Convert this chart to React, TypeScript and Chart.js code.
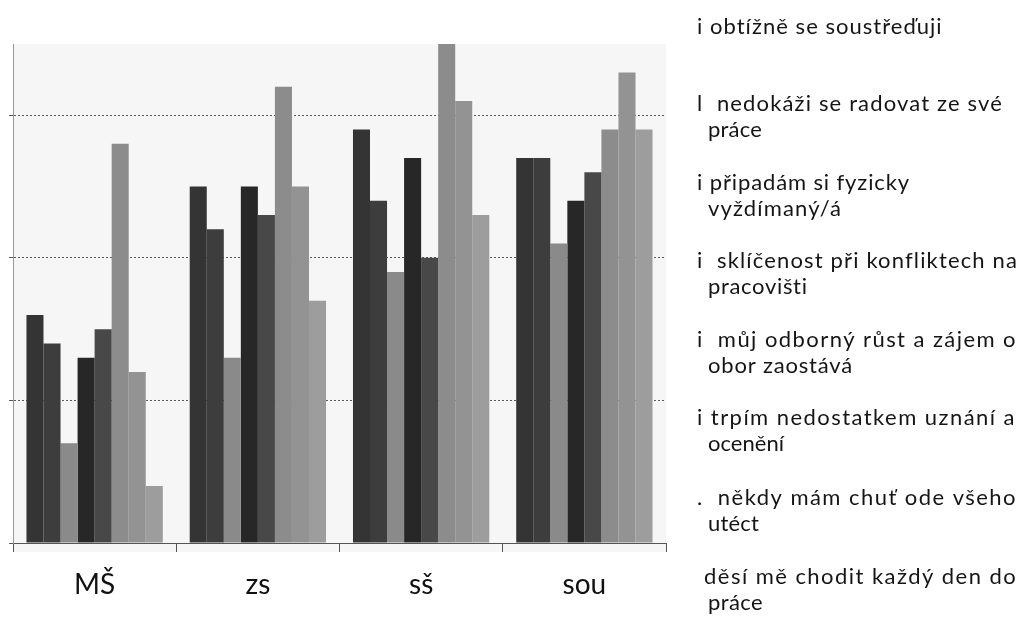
import React, { useEffect, useRef } from "react";
import { Chart, registerables } from "chart.js";

Chart.register(...registerables);

// ---- data ----
const categories = ["MŠ", "zs", "sš", "sou"];
const sObtizne = [16, 25, 29, 27];
const sNedokazi = [14, 22, 24, 27];
const sVyzdimany = [7, 13, 19, 21];
const sSklicenost = [13, 25, 27, 24];
const sOdborny = [15, 23, 20, 26];
const sUznani = [28, 32, 36, 29];
const sUtect = [12, 25, 31, 33];
const sDesi = [4, 17, 23, 29];
const seriesValues = [sObtizne, sNedokazi, sVyzdimany, sSklicenost, sOdborny, sUznani, sUtect, sDesi];
const seriesLabels: string[][] = [
  ["i obtížně se soustřeďuji"],
  ["l  nedokáži se radovat ze své", "práce"],
  ["i připadám si fyzicky", "vyždímaný/á"],
  ["i  sklíčenost při konfliktech na", "pracovišti"],
  ["i  můj odborný růst a zájem o", "obor zaostává"],
  ["i trpím nedostatkem uznání a", "ocenění"],
  [".  někdy mám chuť ode všeho", "utéct"],
  [" děsí mě chodit každý den do", "práce"],
];
const yTicks = [0, 10, 20, 30];
const yMax = 35;

// ---- styles ----
const barColors = ["#343434", "#3d3d3d", "#8a8a8a", "#272727", "#484848", "#8c8c8c", "#939393", "#9d9d9d"];
const legendTop = [27, 104, 183, 261, 340, 418, 498, 577];
const legendRight: number[][] = [[943], [1003, 762], [910, 842], [1018, 808], [1017, 853], [1016, 784], [1017, 759], [1017, 763]];

const bgPlugin = {
  id: "plotBg",
  beforeDraw(chart: any) {
    const { ctx, chartArea } = chart;
    ctx.save();
    ctx.fillStyle = "#f6f6f6";
    ctx.fillRect(chartArea.left, chartArea.top, chartArea.right - chartArea.left, chartArea.bottom - chartArea.top + 9);
    ctx.restore();
  },
};

const legendPlugin = {
  id: "textLegend",
  afterDraw(chart: any) {
    const ctx = chart.ctx as CanvasRenderingContext2D;
    ctx.save();
    ctx.font = "22px Lato";
    ctx.fillStyle = "#151515";
    ctx.textBaseline = "middle";
    ctx.textAlign = "left";
    seriesLabels.forEach((lines, i) => {
      lines.forEach((line, j) => {
        const x = j === 0 ? 697 : 708;
        const y = legendTop[i] + j * 26;
        const target = legendRight[i][j] - x;
        (ctx as any).letterSpacing = "0px";
        const w = ctx.measureText(line).width;
        let sp = (target - w) / Math.max(1, line.length);
        sp = Math.max(-2, Math.min(5, sp));
        (ctx as any).letterSpacing = sp.toFixed(2) + "px";
        ctx.fillText(line, x, y);
      });
    });
    ctx.restore();
  },
};

export default function App() {
  const ref = useRef<HTMLCanvasElement | null>(null);
  useEffect(() => {
    if (!ref.current) return;
    const chart = new Chart(ref.current, {
      type: "bar",
      data: {
        labels: categories,
        datasets: seriesValues.map((vals, i) => ({
          label: seriesLabels[i].join(" "),
          data: vals,
          backgroundColor: barColors[i],
          borderWidth: 0,
          barPercentage: 1,
          categoryPercentage: 0.835,
          clip: 0,
        })),
      },
      options: {
        animation: false,
        responsive: false,
        maintainAspectRatio: false,
        layout: { padding: { left: 8, top: 44, right: 356, bottom: 0 } },
        plugins: { legend: { display: false }, tooltip: { enabled: false } },
        scales: {
          x: {
            grid: { display: true, drawOnChartArea: false, drawTicks: true, tickLength: 9, color: "#555" },
            border: { display: true, color: "#555", width: 1 },
            ticks: { font: { family: "Lato", size: 28 }, color: "#111", padding: 16 },
            afterFit: (s: any) => { s.height = 77; },
          },
          y: {
            min: 0,
            max: yMax,
            afterBuildTicks: (s: any) => { s.ticks = yTicks.map((v) => ({ value: v })); },
            grid: { color: "#5a5a5a", tickLength: 4, drawTicks: true, tickBorderDash: [] },
            border: { display: true, color: "#999", width: 1 },
            ticks: { display: false },
            afterFit: (s: any) => { s.width = 5; },
          },
        },
      },
      plugins: [bgPlugin, legendPlugin],
    } as any);
    (chart.options.scales as any).y.grid.borderDash = [2, 2];
    (chart.options.scales as any).y.border.dash = [2, 2];
    chart.update();
    return () => chart.destroy();
  }, []);
  return (
    <div style={{ position: "absolute", left: 0, top: 0, width: 1022, height: 620, background: "#fff" }}>
      <canvas ref={ref} width={1022} height={620} style={{ width: 1022, height: 620 }} />
    </div>
  );
}
